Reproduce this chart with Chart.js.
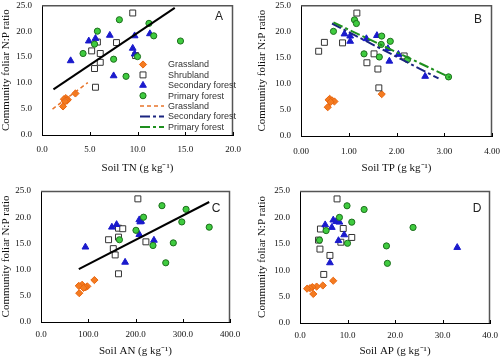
<!DOCTYPE html>
<html>
<head>
<meta charset="utf-8">
<script src="https://cdn.jsdelivr.net/npm/chart.js@4.4.1/dist/chart.umd.min.js"></script>
<style>
  html, body { margin: 0; padding: 0; background: #fff; }
  #wrap { position: relative; width: 500px; height: 362px; overflow: hidden; }
  #wrap canvas { position: absolute; }
</style>
</head>
<body>
<div id="wrap">
  <canvas id="chartA" width="250" height="181" style="left:0;top:0"></canvas>
  <canvas id="chartB" width="250" height="181" style="left:250px;top:0"></canvas>
  <canvas id="chartC" width="250" height="181" style="left:0;top:181px"></canvas>
  <canvas id="chartD" width="250" height="181" style="left:250px;top:181px"></canvas>
</div>
<script>
// Community foliar N:P ratio, one value per plot
const grassNP = [8.0, 7.1, 6.9, 6.8, 6.6, 6.5, 5.5];
const shrubNP = [23.5, 17.9, 17.8, 16.2, 15.7, 15.3, 14.0, 12.8, 9.2];
const secNP   = [19.5, 19.2, 19.1, 18.6, 18.1, 16.7, 15.6, 14.3, 11.4];
const priNP   = [22.2, 21.5, 20.0, 19.1, 18.1, 17.5, 15.7, 15.1, 14.6, 11.3];

// Soil TN (A)
const grassTN = [3.5, 2.5, 2.3, 2.7, 2.6, 2.4, 2.2];
const shrubTN = [9.5, 5.8, 7.8, 5.2, 6.1, 9.8, 6.1, 5.5, 5.6];
const secTN   = [11.3, 7.1, 9.7, 5.6, 4.9, 9.5, 9.7, 3.0, 7.5];
const priTN   = [8.1, 11.2, 5.8, 11.7, 14.5, 5.5, 4.3, 10.0, 7.5, 8.8];

// Soil TP (B)
const grassTP = [1.69, 0.60, 0.58, 0.65, 0.70, 0.62, 0.56];
const shrubTP = [1.17, 0.49, 0.87, 0.37, 1.53, 2.16, 1.38, 1.61, 1.63];
const secTP   = [0.91, 1.59, 1.03, 1.37, 1.03, 1.82, 2.04, 1.85, 2.60];
const priTP   = [1.12, 1.16, 0.68, 1.69, 1.87, 1.68, 1.32, 1.64, 2.23, 3.09];

// Soil AN (C)
const grassAN = [113, 87, 80, 98, 94, 90, 81];
const shrubAN = [205, 164, 173, 164, 143, 222, 153, 157, 164];
const secAN   = [208, 212, 210, 160, 150, 208, 239, 94, 178];
const priAN   = [256, 307, 217, 298, 356, 201, 166, 280, 237, 264];

// Soil AP (D)
const grassAP = [7.0, 4.8, 3.5, 2.6, 2.1, 1.5, 2.8];
const shrubAP = [7.8, 9.1, 4.3, 10.9, 3.9, 8.6, 4.2, 6.3, 5.0];
const secAP   = [7.0, 7.6, 8.3, 5.3, 6.7, 9.3, 8.1, 33.1, 6.3];
const priAP   = [9.9, 13.5, 8.3, 10.9, 23.8, 5.5, 4.1, 10.0, 18.2, 18.4];

// fitted lines (end points)
const fitAllTN_x = [1.2, 13.9],   fitAllTN_y = [8.8, 24.5];
const fitGrassTN_x = [1.1, 4.8],  fitGrassTN_y = [5.0, 10.1];
const fitSecTP_x = [0.65, 2.88],  fitSecTP_y = [21.5, 11.0];
const fitPriTP_x = [0.68, 3.12],  fitPriTP_y = [21.7, 11.2];
const fitAllAN_x = [80, 356],     fitAllAN_y = [10.1, 22.9];

const yTicks = [0, 5, 10, 15, 20, 25];
const groupNames = ['Grassland', 'Shrubland', 'Secondary forest', 'Primary forest'];

const SERIF = '"Liberation Serif", "Times New Roman", serif';
const SANS = '"Liberation Sans", Arial, sans-serif';

const marks = {
  grass: { pointStyle: 'rectRot', pointRadius: 3.6, backgroundColor: '#f47b20', borderColor: '#e8650f', borderWidth: 1 },
  shrub: { pointStyle: 'rect', pointRadius: 4.2, backgroundColor: '#ffffff', borderColor: '#333333', borderWidth: 1 },
  sec:   { pointStyle: 'triangle', pointRadius: 3.9, backgroundColor: '#1a1acc', borderColor: '#1a1acc', borderWidth: 1 },
  pri:   { pointStyle: 'circle', pointRadius: 3.1, backgroundColor: '#3fcb3f', borderColor: '#1d6e1d', borderWidth: 1 }
};
const lines = {
  all:   { borderColor: '#000000', borderWidth: 2, borderDash: [] },
  grass: { borderColor: '#e8742a', borderWidth: 1.5, borderDash: [4, 3] },
  sec:   { borderColor: '#1b2580', borderWidth: 2, borderDash: [10, 3, 3, 3] },
  pri:   { borderColor: '#1e8f1e', borderWidth: 2, borderDash: [10, 3, 3, 3] }
};

const pts = (xs, ys) => xs.map((x, i) => ({ x: x, y: ys[i] }));

function scatterSet(label, xs, ys, m) {
  return Object.assign({ type: 'scatter', label: label, data: pts(xs, ys), pointHoverRadius: m.pointRadius }, m);
}
function lineSet(label, xs, ys, l) {
  return Object.assign({ type: 'line', label: label, data: pts(xs, ys), pointRadius: 0, fill: false, tension: 0 }, l);
}

function drawMarker(ctx, m, x, y) {
  ctx.save();
  ctx.fillStyle = m.backgroundColor;
  ctx.strokeStyle = m.borderColor;
  ctx.lineWidth = m.borderWidth;
  Chart.helpers.drawPoint(ctx, { pointStyle: m.pointStyle, radius: m.pointRadius, rotation: 0, borderWidth: m.borderWidth }, x, y);
  ctx.restore();
}

// box, inner tick marks, panel letter and (panel A) legend
const panelDeco = {
  id: 'panelDeco',
  afterDraw(chart, args, opts) {
    const ctx = chart.ctx;
    const a = chart.chartArea;
    ctx.save();
    ctx.strokeStyle = '#555';
    ctx.lineWidth = 1.5;
    ctx.beginPath();
    ctx.moveTo(a.left, a.top + 0.5);
    ctx.lineTo(a.right - 0.5, a.top + 0.5);
    ctx.lineTo(a.right - 0.5, a.bottom);
    ctx.stroke();
    // inward ticks on x axis
    const xs = chart.scales.x;
    ctx.strokeStyle = '#000';
    ctx.lineWidth = 1;
    xs.ticks.forEach(t => {
      const px = Math.round(xs.getPixelForValue(t.value)) + 0.5;
      ctx.beginPath();
      ctx.moveTo(px, a.bottom);
      ctx.lineTo(px, a.bottom - 3);
      ctx.stroke();
    });
    // letter
    ctx.fillStyle = '#222';
    ctx.font = '12px ' + SANS;
    ctx.textAlign = 'center';
    ctx.textBaseline = 'middle';
    ctx.fillText(opts.letter, opts.lx, opts.ly);
    // legend
    if (opts.legend) {
      const L = opts.legend;
      ctx.font = '9px ' + SANS;
      ctx.textAlign = 'left';
      L.items.forEach((it, i) => {
        const y = L.y + i * L.step;
        if (it.mark) {
          drawMarker(ctx, it.mark, L.x + 3, y);
        } else {
          ctx.save();
          ctx.strokeStyle = it.line.borderColor;
          ctx.lineWidth = it.line.borderWidth;
          ctx.setLineDash(it.line.borderDash);
          ctx.beginPath();
          ctx.moveTo(L.x, y);
          ctx.lineTo(L.x + 24, y);
          ctx.stroke();
          ctx.restore();
        }
        ctx.fillStyle = '#333';
        ctx.fillText(it.text, L.x + 28, y + 0.5);
      });
    }
    ctx.restore();
  }
};

function makePanel(id, p) {
  const tickFont = { family: SERIF, size: 9 };
  return new Chart(document.getElementById(id), {
    data: { datasets: p.datasets },
    plugins: [panelDeco],
    options: {
      responsive: false,
      animation: false,
      events: [],
      layout: { padding: p.pad },
      plugins: {
        legend: { display: false },
        tooltip: { enabled: false },
        panelDeco: { letter: p.letter, lx: p.lx, ly: p.ly, legend: p.legend }
      },
      scales: {
        x: {
          type: 'linear', min: p.xMin, max: p.xMax,
          grid: { display: false, drawTicks: false },
          border: { display: true, color: '#000', width: 1 },
          ticks: { stepSize: p.xStep, color: '#111', font: tickFont, padding: p.xTickPad, maxRotation: 0,
                   callback: v => v.toFixed(p.xDec) },
          title: { display: true, text: p.xTitle, color: '#111', font: { family: SERIF, size: 11 },
                   padding: { top: 0, bottom: p.xTitlePad } },
          afterFit: s => { s.height = p.xH; s.paddingLeft = 0; s.paddingRight = 0; }
        },
        y: {
          type: 'linear', min: 0, max: 25,
          grid: { display: false, drawTicks: false },
          border: { display: true, color: '#000', width: 1 },
          afterBuildTicks: s => { s.ticks = yTicks.map(v => ({ value: v })); },
          ticks: { color: '#111', font: tickFont, padding: 10, callback: v => v.toFixed(1) },
          title: { display: true, text: 'Community foliar N:P ratio', color: '#111',
                   font: { family: SERIF, size: 11 }, padding: { top: 0, bottom: 0 } },
          afterFit: s => { s.width = p.yW; s.paddingTop = 0; s.paddingBottom = 0; }
        }
      }
    }
  });
}

function groupSets(xg, xs, xsec, xp) {
  return [
    scatterSet(groupNames[3], xp, priNP, marks.pri),
    scatterSet(groupNames[2], xsec, secNP, marks.sec),
    scatterSet(groupNames[1], xs, shrubNP, marks.shrub),
    scatterSet(groupNames[0], xg, grassNP, marks.grass)
  ];
}

makePanel('chartA', {
  datasets: [
    lineSet('All', fitAllTN_x, fitAllTN_y, lines.all),
    lineSet('Grassland', fitGrassTN_x, fitGrassTN_y, lines.grass)
  ].concat(groupSets(grassTN, shrubTN, secTN, priTN)),
  pad: { left: 0, top: 4, right: 17, bottom: 0 }, yW: 42, xH: 46,
  xMin: 0, xMax: 20, xStep: 5, xDec: 1, xTickPad: 9, xTitlePad: 6,
  xTitle: 'Soil TN (g kg\u207B\u00B9)',
  letter: 'A', lx: 219, ly: 17,
  legend: {
    x: 140, y: 64.5, step: 10.4,
    items: [
      { text: groupNames[0], mark: marks.grass },
      { text: groupNames[1], mark: marks.shrub },
      { text: groupNames[2], mark: marks.sec },
      { text: groupNames[3], mark: marks.pri },
      { text: groupNames[0], line: lines.grass },
      { text: groupNames[2], line: lines.sec },
      { text: groupNames[3], line: lines.pri }
    ]
  }
});

makePanel('chartB', {
  datasets: [
    lineSet('Primary forest', fitPriTP_x, fitPriTP_y, lines.pri),
    lineSet('Secondary forest', fitSecTP_x, fitSecTP_y, lines.sec)
  ].concat(groupSets(grassTP, shrubTP, secTP, priTP)),
  pad: { left: 6, top: 3.5, right: 8, bottom: 0 }, yW: 45, xH: 45,
  xMin: 0, xMax: 4, xStep: 1, xDec: 2, xTickPad: 10, xTitlePad: 6,
  xTitle: 'Soil TP (g kg\u207B\u00B9)',
  letter: 'B', lx: 228, ly: 20
});

makePanel('chartC', {
  datasets: [
    lineSet('All', fitAllAN_x, fitAllAN_y, lines.all)
  ].concat(groupSets(grassAN, shrubAN, secAN, priAN)),
  pad: { left: 0, top: 10, right: 20, bottom: 0 }, yW: 41, xH: 40,
  xMin: 0, xMax: 400, xStep: 100, xDec: 1, xTickPad: 7, xTitlePad: 4,
  xTitle: 'Soil AN (g kg\u207B\u00B9)',
  letter: 'C', lx: 216, ly: 28
});

makePanel('chartD', {
  datasets: groupSets(grassAP, shrubAP, secAP, priAP),
  pad: { left: 6, top: 10, right: 10, bottom: 0 }, yW: 44, xH: 39,
  xMin: 0, xMax: 40, xStep: 10, xDec: 1, xTickPad: 7, xTitlePad: 4,
  xTitle: 'Soil AP (g kg\u207B\u00B9)',
  letter: 'D', lx: 227, ly: 28
});
</script>
</body>
</html>
